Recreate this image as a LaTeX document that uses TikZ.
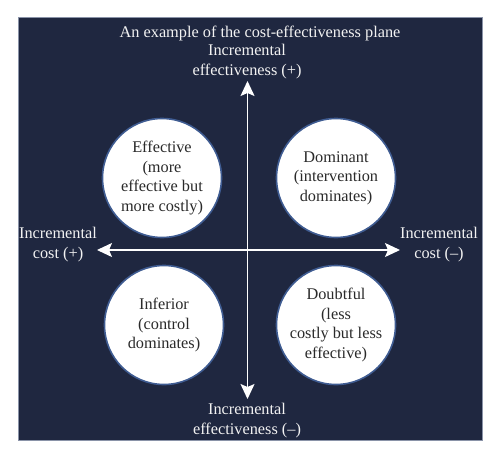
\documentclass[tikz,border=0pt]{standalone}
\usepackage{fontspec}
\setmainfont{Liberation Serif}
\usetikzlibrary{arrows.meta}
\definecolor{navy}{HTML}{1F2740}
\definecolor{rim}{HTML}{8A93A8}
\definecolor{ring}{HTML}{3F5C92}
\definecolor{ink}{HTML}{2A2A2A}
\definecolor{pale}{HTML}{F2F2F2}
\begin{document}
\begin{tikzpicture}[x=1pt,y=-1pt,
  quad/.style={circle,fill=white,draw=ring,line width=1.6pt,minimum size=119pt,inner sep=0pt,
    align=center,text=ink,font=\fontsize{16.3}{19.5}\selectfont},
  lbl/.style={align=center,text=pale,font=\fontsize{16.3}{20}\selectfont,inner sep=0pt},
  axis/.style={draw=white,line width=1.4pt,-{Stealth[length=15pt,width=14pt,inset=3pt]}}]
\useasboundingbox (0,0) rectangle (500,458);
\fill[white] (0,0) rectangle (500,458);
\draw[fill=navy,draw=rim,line width=0.6pt] (18,17) rectangle (482,440);
\node[lbl] (title) at (260,33) {An example of the cost-effectiveness plane};
\node[lbl] (top) at (247,62) {Incremental\\effectiveness (+)};
\node[lbl] (bot) at (247,421) {Incremental\\effectiveness (–)};
\node[lbl] (left) at (58,245) {Incremental\\cost (+)};
\node[lbl] (right) at (439,245) {Incremental\\cost (–)};
\coordinate (o) at (247.5,250);
\coordinate (ytop) at (247.5,81);
\coordinate (ybot) at (247.5,399);
\coordinate (xl) at (97,250);
\coordinate (xr) at (400,250);
\draw[axis] (o) -- (ytop);
\draw[axis] (o) -- (ybot);
\draw[axis] (o) -- (xl);
\draw[axis] (o) -- (xr);
\node[quad] (eff) at (162,178) {Effective\\(more\\effective but\\more costly)};
\node[quad] (dom) at (336,178) {Dominant\\(intervention\\dominates)};
\node[quad] (inf) at (164,325) {Inferior\\(control\\dominates)};
\node[quad] (dou) at (336,325) {Doubtful\\(less\\costly but less\\effective)};
\end{tikzpicture}
\end{document}
